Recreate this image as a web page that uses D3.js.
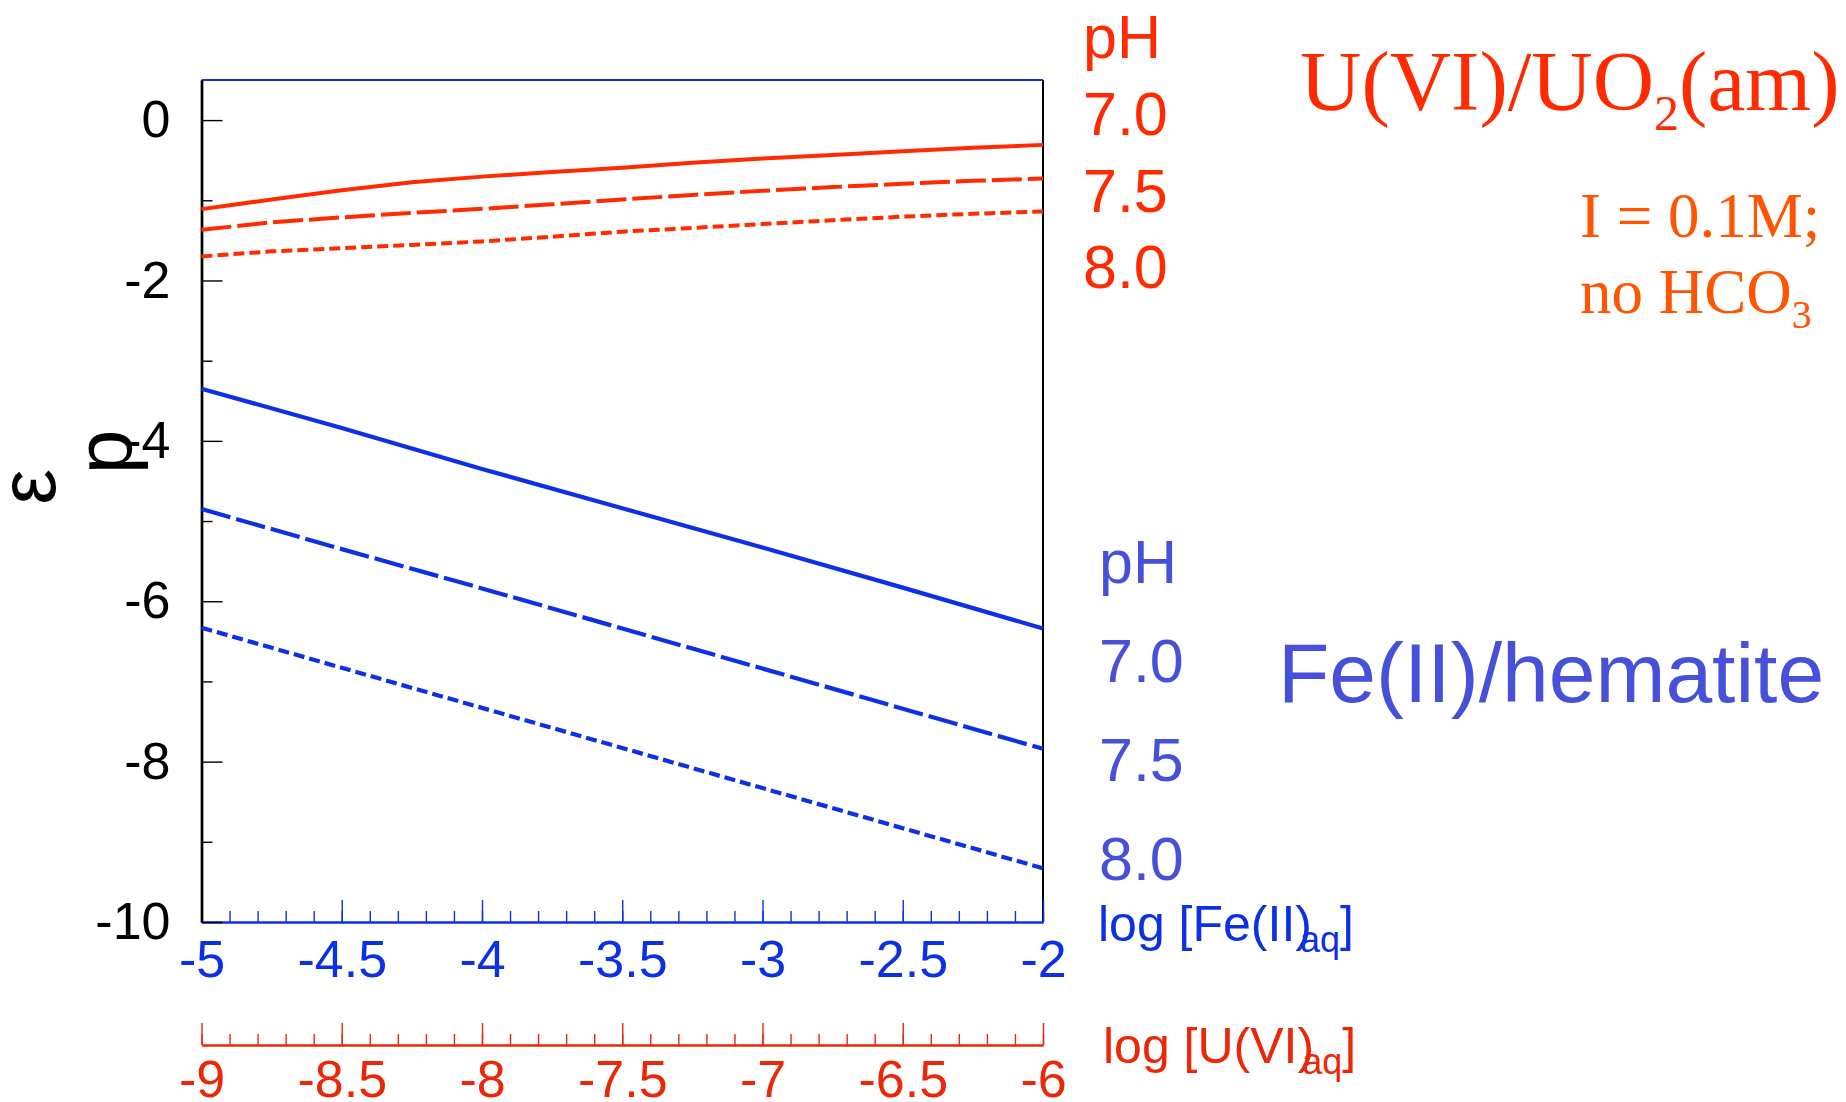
<!DOCTYPE html>
<html>
<head>
<meta charset="utf-8">
<script src="https://cdn.jsdelivr.net/npm/d3@7"></script>
<style>
  html, body { margin: 0; padding: 0; background: #fff; }
  svg { display: block; }
</style>
</head>
<body>
<svg id="chart" width="1846" height="1102"></svg>
<script>
// log[Fe(II)aq] grid for the Fe(II)/hematite couple
const feLog = [-5, -4.5, -4, -3.5, -3, -2.5, -2];
const pePhFe70 = [-3.35, -3.84, -4.35, -4.84, -5.33, -5.83, -6.34];
const pePhFe75 = [-4.85, -5.35, -5.84, -6.34, -6.84, -7.34, -7.84];
const pePhFe80 = [-6.33, -6.83, -7.33, -7.83, -8.33, -8.83, -9.33];

// log[U(VI)aq] grid for the U(VI)/UO2(am) couple
const uLog = [-9, -8.75, -8.5, -8.25, -8, -7.75, -7.5, -7.25, -7, -6.75, -6.5, -6.25, -6];
const pePhU70 = [-1.11, -0.99, -0.875, -0.775, -0.705, -0.648, -0.593, -0.531, -0.48, -0.435, -0.39, -0.345, -0.309];
const pePhU75 = [-1.368, -1.275, -1.213, -1.157, -1.107, -1.05, -0.99, -0.933, -0.882, -0.835, -0.795, -0.757, -0.729];
const pePhU80 = [-1.70, -1.637, -1.597, -1.557, -1.513, -1.454, -1.391, -1.345, -1.297, -1.249, -1.204, -1.168, -1.14];

const phLabels = ["7.0", "7.5", "8.0"];
const peTicks = [-10, -8, -6, -4, -2, 0];
const feTicks = [-5, -4.5, -4, -3.5, -3, -2.5, -2];
const uTicks = [-9, -8.5, -8, -7.5, -7, -6.5, -6];

const RED = "rgb(255,42,0)";
const RED_AX = "rgb(236,38,8)";
const ORANGE = "rgb(255,84,0)";
const BLUE = "rgb(12,48,230)";
const BLUE_TXT = "rgb(70,80,216)";
const SANS = "'Liberation Sans', Arial, Helvetica, sans-serif";
const SERIF = "'Liberation Serif', 'Times New Roman', serif";

// plain hyphen-minus tick labels
const fmt = d => String(d);

const svg = d3.select("#chart");
const L = 201.5, R = 1043, T = 80, B = 922, B2 = 1045;

const x = d3.scaleLinear().domain([-5, -2]).range([L, R]);
const xu = d3.scaleLinear().domain([-9, -6]).range([L, R]);
const y = d3.scaleLinear().domain([-10, 0.5]).range([B, T]);

// frame: blue top edge, black right edge
svg.append("line").attr("x1", L).attr("x2", R).attr("y1", T).attr("y2", T)
  .attr("stroke", BLUE).attr("stroke-width", 2);
svg.append("line").attr("x1", R).attr("x2", R).attr("y1", T).attr("y2", B)
  .attr("stroke", "#000").attr("stroke-width", 2);

function styleAxis(g, color, width) {
  g.select(".domain").attr("stroke", color).attr("stroke-width", width);
  g.selectAll(".tick line").attr("stroke", color).attr("stroke-width", 1.4);
  g.selectAll(".tick text").attr("fill", color).attr("font-family", SANS).attr("font-size", 52);
}

// Fe(II) axis (blue) along the bottom of the plot
const minorFe = d3.range(-50, -19).map(d => d / 10);
const gFeMinor = svg.append("g").attr("transform", `translate(0,${B})`)
  .call(d3.axisBottom(x).tickValues(minorFe).tickSize(-11).tickSizeOuter(0).tickFormat(""));
styleAxis(gFeMinor, BLUE, 2);
const gFe = svg.append("g").attr("transform", `translate(0,${B})`)
  .call(d3.axisBottom(x).tickValues(feTicks).tickSize(-22).tickSizeOuter(0).tickPadding(18)
    .tickFormat(fmt));
styleAxis(gFe, BLUE, 2);

// U(VI) axis (red) below
const minorU = d3.range(-90, -59).map(d => d / 10);
const gUMinor = svg.append("g").attr("transform", `translate(0,${B2})`)
  .call(d3.axisBottom(xu).tickValues(minorU).tickSize(-11).tickSizeOuter(0).tickFormat(""));
styleAxis(gUMinor, RED_AX, 2);
const gU = svg.append("g").attr("transform", `translate(0,${B2})`)
  .call(d3.axisBottom(xu).tickValues(uTicks).tickSize(-22).tickSizeOuter(0).tickPadding(15)
    .tickFormat(fmt));
styleAxis(gU, RED_AX, 2);

// pe axis (black) on the left
const gPeMinor = svg.append("g").attr("transform", `translate(${L},0)`)
  .call(d3.axisLeft(y).tickValues([-9, -7, -5, -3, -1]).tickSize(-11).tickSizeOuter(0).tickFormat(""));
styleAxis(gPeMinor, "#000", 2.4);
const gPe = svg.append("g").attr("transform", `translate(${L},0)`)
  .call(d3.axisLeft(y).tickValues(peTicks).tickSize(-21).tickSizeOuter(0).tickPadding(31)
    .tickFormat(fmt));
styleAxis(gPe, "#000", 2.4);

// pe axis title: rotated glyphs
svg.append("text").attr("transform", "translate(131,452) rotate(-90)")
  .attr("text-anchor", "middle").attr("font-family", SANS).attr("font-size", 80)
  .attr("fill", "#000").text("p");
svg.append("text").attr("transform", "translate(55,487) rotate(-90)")
  .attr("text-anchor", "middle").attr("font-family", SANS).attr("font-size", 80)
  .attr("fill", "#000").text("ε");

// curves
const dashes = ["none", "30,6", "11,5"];
const lineFe = d3.line().x(d => x(d[0])).y(d => y(d[1]));
const lineU = d3.line().x(d => xu(d[0])).y(d => y(d[1]));

[pePhFe70, pePhFe75, pePhFe80].forEach((vals, i) => {
  svg.append("path").datum(feLog.map((v, k) => [v, vals[k]]))
    .attr("d", lineFe).attr("fill", "none").attr("stroke", BLUE)
    .attr("stroke-width", 4.2).attr("stroke-dasharray", dashes[i]);
});
[pePhU70, pePhU75, pePhU80].forEach((vals, i) => {
  svg.append("path").datum(uLog.map((v, k) => [v, vals[k]]))
    .attr("d", lineU).attr("fill", "none").attr("stroke", RED)
    .attr("stroke-width", 4).attr("stroke-dasharray", dashes[i]);
});

// pH keys
function txt(xp, yp, s, size, color, family) {
  return svg.append("text").attr("x", xp).attr("y", yp).attr("font-family", family || SANS)
    .attr("font-size", size).attr("fill", color).text(s);
}
txt(1083, 58, "pH", 61, RED);
[135, 212, 288].forEach((yy, i) => txt(1083, yy, phLabels[i], 61, RED));
txt(1099, 583, "pH", 61, BLUE_TXT);
[682, 781, 880].forEach((yy, i) => txt(1099, yy, phLabels[i], 61, BLUE_TXT));

// couple names
const uTitle = svg.append("text").attr("x", 1300).attr("y", 110).attr("font-family", SERIF)
  .attr("font-size", 85).attr("fill", RED);
uTitle.append("tspan").text("U(VI)/UO");
uTitle.append("tspan").attr("font-size", 50).attr("dy", 20).text("2");
uTitle.append("tspan").attr("dy", -20).text("(am)");

txt(1580, 237, "I = 0.1M;", 63, ORANGE, SERIF);
const hco = svg.append("text").attr("x", 1580).attr("y", 313).attr("font-family", SERIF)
  .attr("font-size", 63).attr("fill", ORANGE);
hco.append("tspan").text("no HCO");
hco.append("tspan").attr("font-size", 40).attr("dy", 15).text("3");

txt(1278, 702, "Fe(II)/hematite", 84, BLUE_TXT);

// axis titles
function axisTitle(xp, yp, main, color) {
  const t = svg.append("text").attr("x", xp).attr("y", yp).attr("font-family", SANS)
    .attr("font-size", 50).attr("fill", color);
  t.append("tspan").text(main);
  t.append("tspan").attr("font-size", 36).attr("dx", -12).attr("dy", 11).text("aq");
  t.append("tspan").attr("dy", -11).text("]");
}
axisTitle(1098, 941, "log [Fe(II)", BLUE);
axisTitle(1103, 1063, "log [U(VI)", RED_AX);
</script>
</body>
</html>
